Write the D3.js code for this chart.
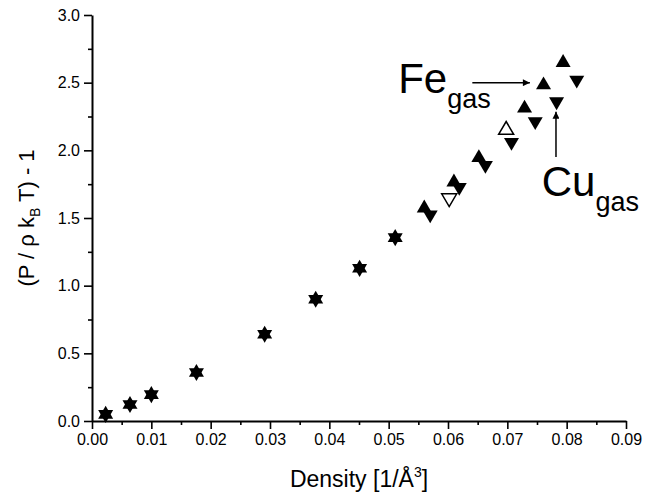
<!DOCTYPE html>
<html><head><meta charset="utf-8">
<script src="https://cdn.jsdelivr.net/npm/d3@7"></script>
<style>
html,body{margin:0;padding:0;background:#fff;}
svg{display:block;}
text{font-family:"Liberation Sans",Arial,sans-serif;fill:#000;}
</style></head>
<body>
<svg id="chart" width="659" height="501"></svg>
<script>
// ---- data ----
// low-density points where Fe and Cu coincide (drawn as overlapping up/down triangles)
const sharedDensity  = [0.0023, 0.0064, 0.0100, 0.0176, 0.0291, 0.0377, 0.0451, 0.0511];
const sharedPressure = [0.049, 0.122, 0.195, 0.359, 0.641, 0.900, 1.128, 1.355];
// Fe gas (filled up triangles)
const feDensity  = [0.0560, 0.0610, 0.0652, 0.0729, 0.0761, 0.0794];
const fePressure = [1.573, 1.765, 1.945, 2.311, 2.483, 2.648];
// Cu gas (filled down triangles)
const cuDensity  = [0.0570, 0.0619, 0.0663, 0.0707, 0.0747, 0.0783, 0.0817];
const cuPressure = [1.524, 1.728, 1.890, 2.060, 2.213, 2.360, 2.520];
// open symbols
const feOpenDensity  = [0.0698];
const feOpenPressure = [2.150];
const cuOpenDensity  = [0.0602];
const cuOpenPressure = [1.647];
// axes
const xTicks = [0,0.01,0.02,0.03,0.04,0.05,0.06,0.07,0.08,0.09];
const yTicks = [0,0.5,1.0,1.5,2.0,2.5,3.0];
const xDomain = [0, 0.09];
const yDomain = [0, 3.0];
// annotation anchors (data units)
const feLabel = {x:0.0516, y:2.425, arrowFrom:[0.0641,2.5], arrowTo:[0.0738,2.5]};
const cuLabel = {x:0.0758, y:1.665, arrowFrom:[0.0782,1.95], arrowTo:[0.0782,2.285]};

// ---- layout ----
const svg = d3.select("#chart");
const x = d3.scaleLinear().domain(xDomain).range([92, 626]);
const y = d3.scaleLinear().domain(yDomain).range([421, 15]);

const defs = svg.append("defs");
defs.append("marker").attr("id","arrow").attr("viewBox","0 0 10 10")
  .attr("refX",10).attr("refY",5).attr("markerWidth",10).attr("markerHeight",7)
  .attr("markerUnits","userSpaceOnUse").attr("orient","auto")
  .append("path").attr("d","M0,0 L10,5 L0,10 Z").attr("fill","#000");

// minor ticks
const xMinor = d3.range(0.005, 0.09, 0.01);
const yMinor = d3.range(0.25, 3.0, 0.5);

svg.append("g").attr("transform",`translate(0,${y(0)})`)
  .call(d3.axisBottom(x).tickValues(xTicks).tickFormat(d3.format(".2f")).tickSize(8).tickSizeOuter(0).tickPadding(5));
svg.append("g").attr("transform",`translate(0,${y(0)})`)
  .call(d3.axisBottom(x).tickValues(xMinor).tickFormat("").tickSize(4).tickSizeOuter(0))
  .select(".domain").remove();
svg.append("g").attr("transform",`translate(${x(0)},0)`)
  .call(d3.axisLeft(y).tickValues(yTicks).tickFormat(d3.format(".1f")).tickSize(8).tickSizeOuter(0).tickPadding(4));
svg.append("g").attr("transform",`translate(${x(0)},0)`)
  .call(d3.axisLeft(y).tickValues(yMinor).tickFormat("").tickSize(4).tickSizeOuter(0))
  .select(".domain").remove();

svg.selectAll(".domain").attr("stroke","#000").attr("stroke-width",2);
svg.selectAll(".tick line").attr("stroke","#000").attr("stroke-width",1.6);
svg.selectAll(".tick text").attr("font-family","Liberation Sans, Arial, sans-serif").attr("font-size",16).attr("fill","#000");

// axis titles
const xt = svg.append("text").attr("x", (x(0)+x(0.09))/2).attr("y", 487).attr("text-anchor","middle").attr("font-size",23);
xt.append("tspan").text("Density [1/Å");
xt.append("tspan").attr("font-size",14).attr("dy",-10).text("3");
xt.append("tspan").attr("dy",10).text("]");

const yt = svg.append("text").attr("transform",`translate(34,${(y(0)+y(3))/2}) rotate(-90)`).attr("text-anchor","middle").attr("font-size",22);
yt.append("tspan").text("(P / \u03C1 k");
yt.append("tspan").attr("font-size",14).attr("dy",6).text("B");
yt.append("tspan").attr("dy",-6).text(" T) - 1");

// ---- markers ----
const W = 15, H = 12.8;
function triUp(cx, cy){ return `M${cx},${cy-2*H/3} L${cx+W/2},${cy+H/3} L${cx-W/2},${cy+H/3} Z`; }
function triDown(cx, cy){ return `M${cx},${cy+2*H/3} L${cx+W/2},${cy-H/3} L${cx-W/2},${cy-H/3} Z`; }

function zipPts(xs, ys){ return xs.map((d,i)=>({d:d, p:ys[i]})); }

const gMarks = svg.append("g");
const shared = zipPts(sharedDensity, sharedPressure);
gMarks.selectAll(".su").data(shared).enter().append("path").attr("d",v=>triUp(x(v.d),y(v.p))).attr("fill","#000");
gMarks.selectAll(".sd").data(shared).enter().append("path").attr("d",v=>triDown(x(v.d),y(v.p))).attr("fill","#000");
gMarks.selectAll(".fe").data(zipPts(feDensity, fePressure)).enter().append("path")
  .attr("d",v=>triUp(x(v.d),y(v.p))).attr("fill","#000");
gMarks.selectAll(".cu").data(zipPts(cuDensity, cuPressure)).enter().append("path")
  .attr("d",v=>triDown(x(v.d),y(v.p))).attr("fill","#000");
gMarks.selectAll(".feo").data(zipPts(feOpenDensity, feOpenPressure)).enter().append("path")
  .attr("d",v=>triUp(x(v.d),y(v.p))).attr("fill","#fff").attr("stroke","#000").attr("stroke-width",1.5);
gMarks.selectAll(".cuo").data(zipPts(cuOpenDensity, cuOpenPressure)).enter().append("path")
  .attr("d",v=>triDown(x(v.d),y(v.p))).attr("fill","#fff").attr("stroke","#000").attr("stroke-width",1.5);

// ---- annotations ----
const fe = svg.append("text").attr("x",x(feLabel.x)).attr("y",y(feLabel.y)).attr("font-size",42);
fe.append("tspan").text("Fe");
fe.append("tspan").attr("font-size",27).attr("dy",15).text("gas");
svg.append("line").attr("x1",x(feLabel.arrowFrom[0])).attr("y1",y(feLabel.arrowFrom[1]))
  .attr("x2",x(feLabel.arrowTo[0])).attr("y2",y(feLabel.arrowTo[1]))
  .attr("stroke","#000").attr("stroke-width",1.5).attr("marker-end","url(#arrow)");

const cu = svg.append("text").attr("x",x(cuLabel.x)).attr("y",y(cuLabel.y)).attr("font-size",42);
cu.append("tspan").text("Cu");
cu.append("tspan").attr("font-size",27).attr("dy",15).text("gas");
svg.append("line").attr("x1",x(cuLabel.arrowFrom[0])).attr("y1",y(cuLabel.arrowFrom[1]))
  .attr("x2",x(cuLabel.arrowTo[0])).attr("y2",y(cuLabel.arrowTo[1]))
  .attr("stroke","#000").attr("stroke-width",1.5).attr("marker-end","url(#arrow)");
</script>
</body></html>
